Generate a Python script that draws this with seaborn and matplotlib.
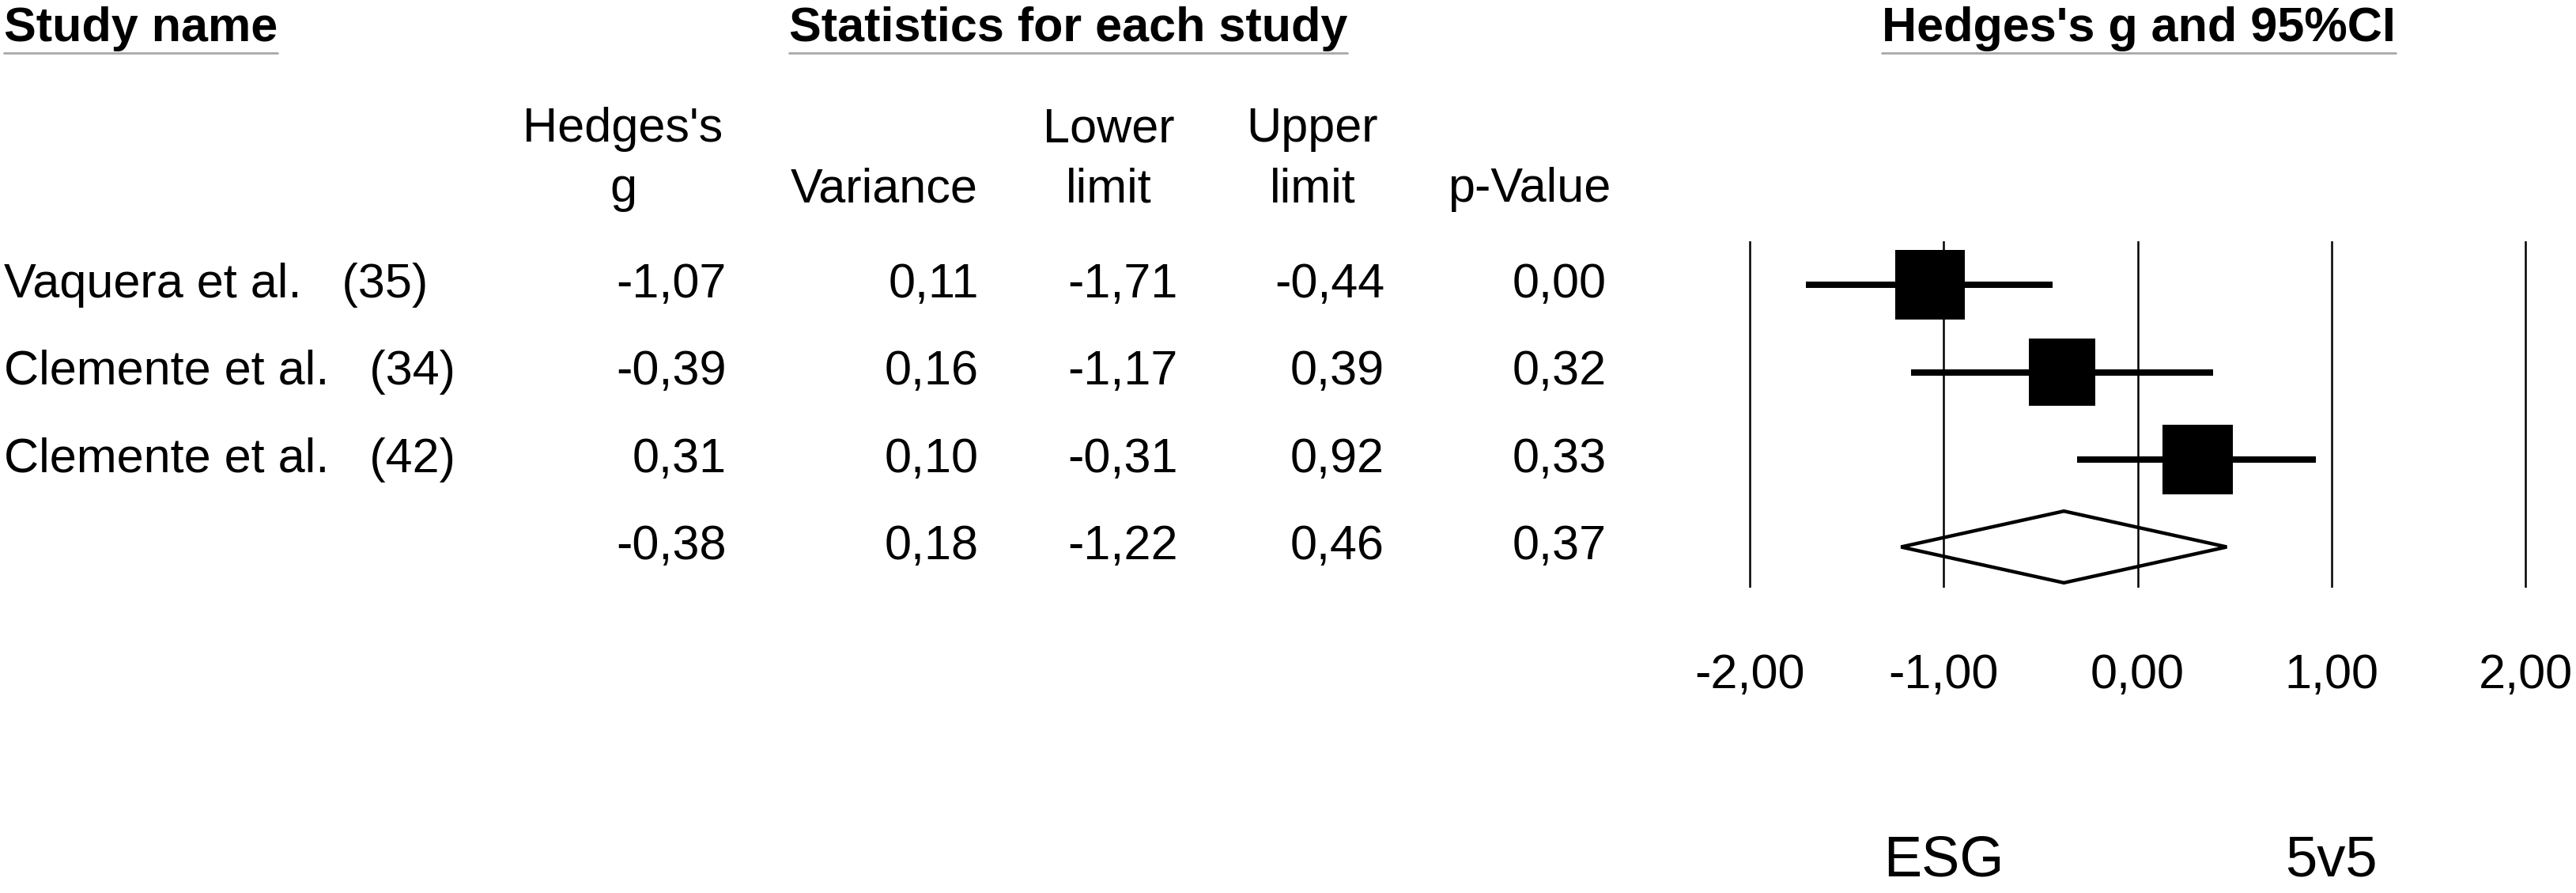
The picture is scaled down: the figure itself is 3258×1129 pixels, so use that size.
import matplotlib
matplotlib.use("Agg")
import matplotlib.pyplot as plt
import matplotlib.transforms as mtransforms
from matplotlib.lines import Line2D
from matplotlib.ticker import FuncFormatter
import numpy as np
import pandas as pd
import seaborn as sns

# ---- data ----
studies = ["Vaquera et al.", "Clemente et al.", "Clemente et al."]
refs = ["35", "34", "42"]
hedges_g = [-1.07, -0.39, 0.31]
variance = [0.11, 0.16, 0.10]
lower = [-1.71, -1.17, -0.31]
upper = [-0.44, 0.39, 0.92]
p_value = [0.00, 0.32, 0.33]

summary = {"g": -0.38, "var": 0.18, "lower": -1.22, "upper": 0.46, "p": 0.37}

x_ticks = [-2, -1, 0, 1, 2]
favours = ["ESG", "5v5"]

col_headers = [("Hedges's", "g"), ("", "Variance"), ("Lower", "limit"),
               ("Upper", "limit"), ("", "p-Value")]

# ---- layout (pixels of the 3258 x 1129 output) ----
W, H = 3258, 1129
FS = 44
col_right = [919, 1238, 1490, 1751, 2032]
col_center = [788, 1118, 1402, 1660, 1934]


def fx(px):
    return px / W


def fy(py):
    return 1 - py / H


def fmt(v):
    return f"{v:.2f}".replace(".", ",")


sns.set_theme(style="white")
plt.rcParams["font.family"] = ["Liberation Sans", "DejaVu Sans"]
plt.rcParams["axes.unicode_minus"] = False
plt.rcParams["text.color"] = "black"
plt.rcParams["xtick.color"] = "black"
plt.rcParams["xtick.labelcolor"] = "black"

fig = plt.figure(figsize=(W / 100, H / 100), dpi=100)
fig.patch.set_facecolor("white")

# forest plot axes: -2 at x=2213px, +2 at 3194px, rows at 360..692px
ax = fig.add_axes([fx(2164), fy(743), fx(3243) - fx(2164), fy(305) - fy(743)])
ax.set_xlim(-2.2, 2.2)
ax.set_ylim(3.466, -0.498)

df = pd.DataFrame({
    "key": [f"{s} ({r})" for s, r in zip(studies, refs)],
    "g": hedges_g, "lower": lower, "upper": upper, "var": variance,
    "row": np.arange(len(studies)),
})

# box area follows random-effects weight
tau2 = 0.42
w = 1.0 / (df["var"] + tau2)
box_area = 4100 * w / w.max()

ax.hlines(df["row"], df["lower"], df["upper"], color="black", lw=5.8,
          capstyle="butt", zorder=2)
sns.scatterplot(data=df, x="g", y="row", size="key",
                sizes=dict(zip(df["key"], box_area)), marker="s",
                color="black", linewidth=0, legend=False, ax=ax, zorder=3)

# summary diamond
srow = len(studies)
half = 0.41
ax.fill([summary["lower"], summary["g"], summary["upper"], summary["g"]],
        [srow, srow - half, srow, srow + half],
        facecolor="none", edgecolor="black", lw=3.2, zorder=3,
        joinstyle="miter")

ax.set_xticks(x_ticks)
ax.xaxis.set_major_formatter(FuncFormatter(lambda v, _: fmt(v)))
ax.grid(axis="x", color="black", lw=1.8)
ax.grid(axis="y", visible=False)
ax.set_yticks([])
ax.tick_params(axis="x", length=0, pad=60, labelsize=FS, labelcolor="black")
for sp in ax.spines.values():
    sp.set_visible(False)
ax.set_xlabel("")
ax.set_ylabel("")

# favours labels under the axis
tr_fav = mtransforms.blended_transform_factory(ax.transData, fig.transFigure)
for lab, xpos in zip(favours, [-1, 1]):
    fig.text(xpos, fy(1108), lab, transform=tr_fav, ha="center",
             va="baseline", fontsize=52, color="black")

# ---- table on the left ----
tr_row = mtransforms.blended_transform_factory(fig.transFigure, ax.transData)
rows_vals = list(zip(hedges_g, variance, lower, upper, p_value))
rows_vals.append((summary["g"], summary["var"], summary["lower"],
                  summary["upper"], summary["p"]))

for i, (name, ref) in enumerate(zip(studies, refs)):
    fig.text(fx(5), i, f"{name}   ({ref})", transform=tr_row,
             ha="left", va="center", fontsize=FS, color="black")

for i, vals in enumerate(rows_vals):
    for v, xr in zip(vals, col_right):
        fig.text(fx(xr), i, fmt(v), transform=tr_row,
                 ha="right", va="center", fontsize=FS, color="black")

for (l1, l2), xc in zip(col_headers, col_center):
    if l1:
        fig.text(fx(xc), fy(179), l1, ha="center", va="baseline",
                 fontsize=FS, color="black")
    fig.text(fx(xc), fy(255), l2, ha="center", va="baseline",
             fontsize=FS, color="black")

# bold section headers with grey underline
headers = [
    fig.text(fx(5), fy(52), "Study name", ha="left", va="baseline",
             fontsize=FS, fontweight="bold", color="black"),
    fig.text(fx(1351), fy(52), "Statistics for each study", ha="center",
             va="baseline", fontsize=FS, fontweight="bold", color="black"),
    fig.text(fx(2705), fy(52), "Hedges's g and 95%CI", ha="center",
             va="baseline", fontsize=FS, fontweight="bold", color="black"),
]
fig.canvas.draw()
renderer = fig.canvas.get_renderer()
for t in headers:
    bb = t.get_window_extent(renderer)
    fig.add_artist(Line2D([bb.x0 / W, bb.x1 / W], [fy(67), fy(67)],
                          transform=fig.transFigure, color="#a8a8a8", lw=2))

fig.savefig("out.png", dpi=100, facecolor="white")
plt.close(fig)
